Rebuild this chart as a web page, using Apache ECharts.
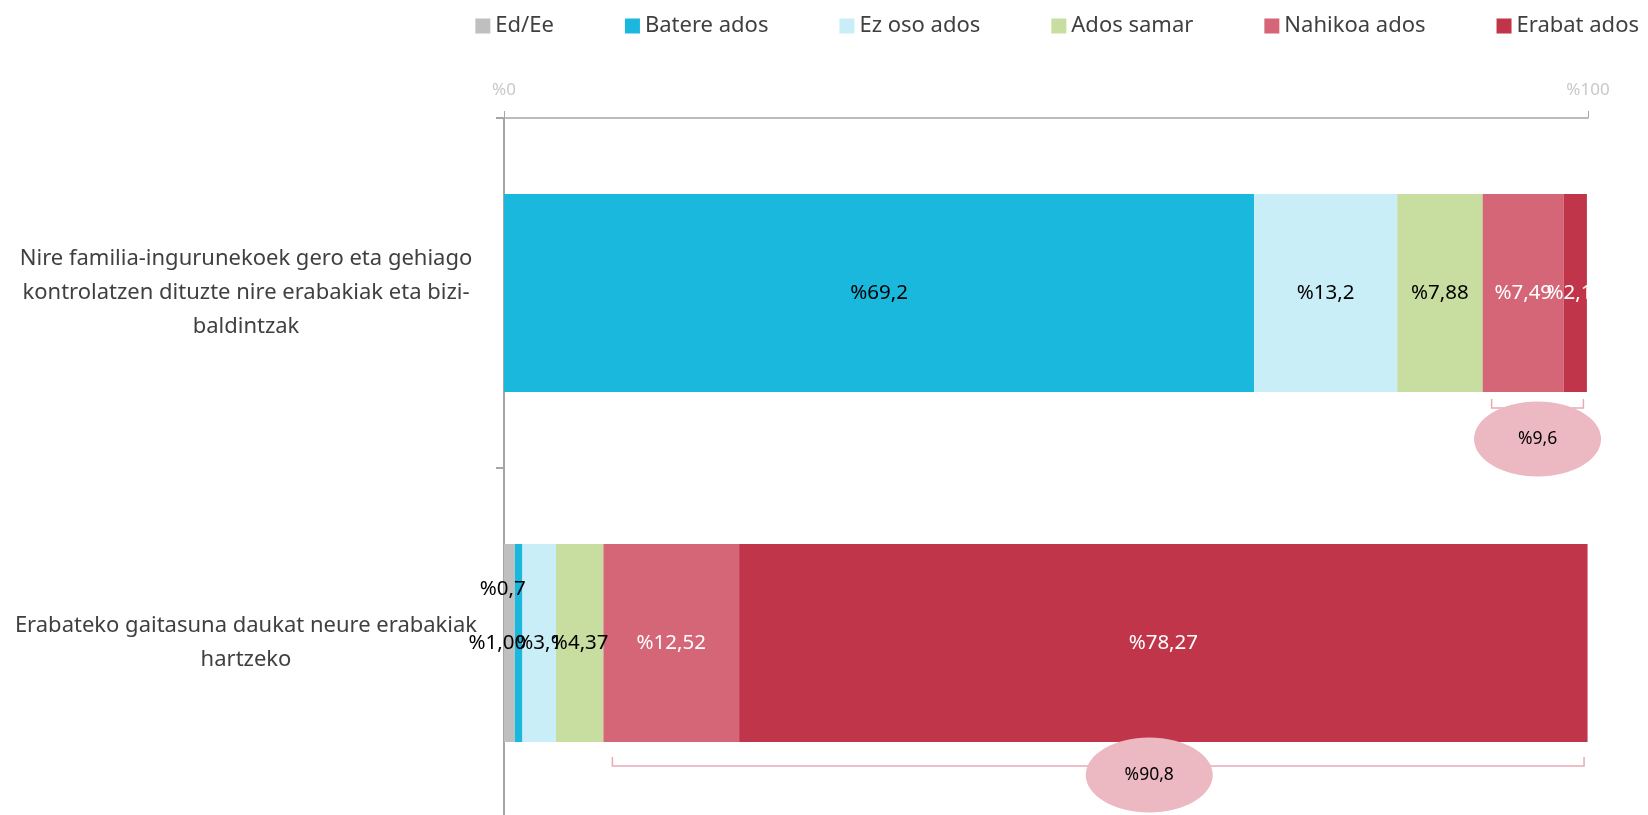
<!DOCTYPE html>
<html>
<head>
<meta charset="utf-8">
<script src="https://cdn.jsdelivr.net/npm/echarts@6/dist/echarts.min.js"></script>
<style>
  html, body { margin: 0; padding: 0; background: #fff; }
  #chart { width: 1648px; height: 815px; }
</style>
</head>
<body>
<div id="chart"></div>
<script>
  const categories = [
    'Nire familia-ingurunekoek gero eta gehiago\nkontrolatzen dituzte nire erabakiak eta bizi-\nbaldintzak',
    'Erabateko gaitasuna daukat neure erabakiak\nhartzeko',
  ];
  const seriesNames = ['Ed/Ee', 'Batere ados', 'Ez oso ados', 'Ados samar', 'Nahikoa ados', 'Erabat ados'];
  // values as printed in the labels (comma decimals in output)
  const edEe = ['0', '1.00'];
  const batereAdos = ['69.2', '0.7'];
  const ezOsoAdos = ['13.2', '3.1'];
  const adosSamar = ['7.88', '4.37'];
  const nahikoaAdos = ['7.49', '12.52'];
  const erabatAdos = ['2.13', '78.27'];
  const axisTicks = [0, 100];

  const colors = ['#BFBFBF', '#1BB8DE', '#CAEEF7', '#C8DDA0', '#D56677', '#C0354A'];
  const labelColors = ['#000', '#000', '#000', '#000', '#fff', '#fff'];
  const allValues = [edEe, batereAdos, ezOsoAdos, adosSamar, nahikoaAdos, erabatAdos];

  // small label nudges where the thin segments collide (row 2)
  const labelOffsets = {
    '0-1': [-12, 0],
    '1-1': [-16, -54],
  };

  const font = '"Noto Sans", "Open Sans", sans-serif';

  function fmt(s) {
    return '%' + s.replace('.', ',');
  }

  const barSeries = seriesNames.map((name, si) => ({
    name,
    type: 'bar',
    stack: 'total',
    barWidth: 198,
    itemStyle: { color: colors[si] },
    label: {
      show: true,
      position: 'inside',
      color: labelColors[si],
      fontSize: 20.5,
      fontFamily: font,
      formatter: (p) => fmt(allValues[si][p.dataIndex]),
    },
    data: allValues[si].map((s, ri) => {
      const item = { value: Number(s) };
      if (Number(s) === 0) item.label = { show: false };
      const off = labelOffsets[si + '-' + ri];
      if (off) item.label = { offset: off };
      return item;
    }),
  }));

  // brackets under "Nahikoa ados" + "Erabat ados"
  const bracketData = categories.map((c, ri) => {
    const before = [edEe, batereAdos, ezOsoAdos, adosSamar]
      .reduce((acc, arr) => acc + Number(arr[ri]), 0);
    const agree = Number(nahikoaAdos[ri]) + Number(erabatAdos[ri]);
    return [ri, before, before + agree, agree];
  });
  // per-row placement of bracket and bubble below the bar
  const bracketDrop = [7, 15];
  const bubbleShift = [[0, 47], [51, 33]];

  const chart = echarts.init(document.getElementById('chart'));
  chart.setOption({
    animation: false,
    textStyle: { fontFamily: font },
    legend: {
      data: seriesNames,
      right: 4,
      top: 10,
      icon: 'rect',
      itemWidth: 15,
      itemHeight: 15,
      itemGap: 71,
      textStyle: { fontSize: 22, color: '#404040', fontFamily: font },
    },
    grid: { left: 504, right: 60, top: 118, bottom: -3, outerBoundsMode: 'none' },
    xAxis: {
      type: 'value',
      position: 'top',
      min: axisTicks[0],
      max: axisTicks[1],
      interval: axisTicks[1] - axisTicks[0],
      splitLine: { show: false },
      axisLine: { show: true, lineStyle: { color: '#A6A6A6', width: 1.5 } },
      axisTick: { show: true, length: 7, lineStyle: { color: '#A6A6A6' } },
      axisLabel: {
        margin: 19,
        color: '#C8C8C8',
        fontSize: 17,
        fontFamily: font,
        formatter: (v) => '%' + v,
      },
    },
    yAxis: {
      type: 'category',
      inverse: true,
      data: categories,
      axisLine: { show: true, lineStyle: { color: '#A6A6A6', width: 2 } },
      axisTick: { show: true, length: 8, lineStyle: { color: '#A6A6A6', width: 2 } },
      axisLabel: {
        margin: 258,
        align: 'center',
        fontSize: 22,
        lineHeight: 34,
        color: '#404040',
        fontFamily: font,
      },
    },
    series: barSeries.concat([{
      name: 'bracket',
      type: 'custom',
      clip: false,
      z: 5,
      encode: { x: [1, 2], y: 0 },
      data: bracketData,
      renderItem: (params, api) => {
        const ri = api.value(0);
        const a = api.coord([api.value(1), ri]);
        const b = api.coord([api.value(2), ri]);
        const barBottom = a[1] + 99;
        const x1 = a[0] + 9;
        const x2 = b[0] - 3.5;
        const y1 = barBottom + bracketDrop[params.dataIndex];
        const y2 = y1 + 9;
        const shift = bubbleShift[params.dataIndex];
        const cx = (x1 + x2) / 2 + shift[0];
        const cy = barBottom + shift[1];
        const sum = api.value(3).toFixed(1).replace('.', ',');
        return {
          type: 'group',
          children: [
            {
              type: 'polyline',
              shape: { points: [[x1, y1], [x1, y2], [x2, y2], [x2, y1]] },
              style: { stroke: '#E9AAB6', lineWidth: 1.5, fill: null },
            },
            {
              type: 'ellipse',
              shape: { cx, cy, rx: 63.5, ry: 37.5 },
              style: { fill: '#ECB8C2' },
            },
            {
              type: 'text',
              x: cx,
              y: cy,
              style: {
                text: '%' + sum,
                fill: '#000',
                fontSize: 17.5,
                fontFamily: font,
                align: 'center',
                verticalAlign: 'middle',
              },
            },
          ],
        };
      },
    }]),
  });
</script>
</body>
</html>
